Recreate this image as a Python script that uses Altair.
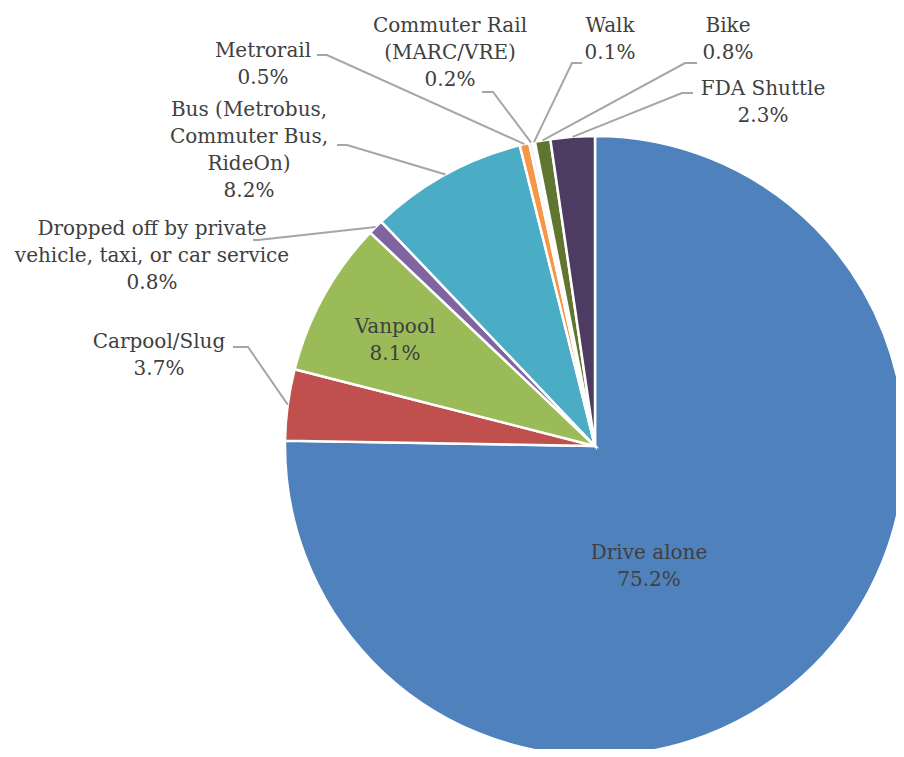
import math
import altair as alt
import pandas as pd

# ---------------- data ----------------
categories = [
    "Drive alone",
    "Carpool/Slug",
    "Vanpool",
    "Dropped off by private vehicle, taxi, or car service",
    "Bus (Metrobus, Commuter Bus, RideOn)",
    "Metrorail",
    "Commuter Rail (MARC/VRE)",
    "Walk",
    "Bike",
    "FDA Shuttle",
]
shares = [75.2, 3.7, 8.1, 0.8, 8.2, 0.5, 0.2, 0.1, 0.8, 2.3]
label_names = [
    "Drive alone",
    "Carpool/Slug",
    "Vanpool",
    "Dropped off by private\nvehicle, taxi, or car service",
    "Bus (Metrobus,\nCommuter Bus,\nRideOn)",
    "Metrorail",
    "Commuter Rail\n(MARC/VRE)",
    "Walk",
    "Bike",
    "FDA Shuttle",
]

# ---------------- styles / layout ----------------
colors = ["#4F81BD", "#C0504D", "#9BBB59", "#8064A2", "#4BACC6",
          "#F79646", "#E9EEF5", "#F2F2F2", "#5F7530", "#4D3B62"]
W, H = 888, 741
CX, CY, R = 587, 438, 310
FONT = "DejaVu Serif"
FS = 20
LH = 27
TEXT_COLOR = "#404040"
LEADER_COLOR = "#A6A6A6"

# label anchor (center x, first-line baseline y), chart pixel coords
label_x = [641, 151, 387, 144, 241, 255, 442, 602, 720, 755]
label_y = [551, 340, 325, 227, 108, 49, 24, 24, 24, 87]
# leader line start and elbow (None = no leader)
leader_start = [None, (225, 339), None, (245, 232), (329, 137), (309, 47),
                (474, 84), (574, 55), (689, 55), (685, 85)]
leader_elbow = [None, (240, 339), None, (250, 232), (339, 137), (319, 47),
                (485, 84), (564, 55), (677, 55), (674, 85)]

# ---------------- tables ----------------
pie_df = pd.DataFrame({"category": categories, "share": shares,
                       "idx": list(range(len(categories)))})

text_rows = []
for name, v, x, y in zip(label_names, shares, label_x, label_y):
    text_rows.append({"x": x, "y": y, "text": f"{name}\n{v:.1f}%"})
text_df = pd.DataFrame(text_rows)

total = sum(shares)
line_rows = []
cum = 0.0
for i, v in enumerate(shares):
    mid = (cum + v / 2) / total * 2 * math.pi
    cum += v
    if leader_start[i] is None:
        continue
    ex = CX + R * math.sin(mid)
    ey = CY - R * math.cos(mid)
    pts = [leader_start[i], leader_elbow[i], (ex, ey)]
    for k, (px, py) in enumerate(pts):
        line_rows.append({"leader": categories[i], "ord": k, "x": px, "y": py})
line_df = pd.DataFrame(line_rows)

xs = alt.Scale(domain=[0, W], range=[0, W], nice=False, zero=False)
ys = alt.Scale(domain=[0, H], range=[0, H], nice=False, zero=False)

pie = alt.Chart(pie_df).mark_arc(
    outerRadius=R, stroke="white", strokeWidth=2.5
).encode(
    theta=alt.Theta("share:Q", stack=True),
    order=alt.Order("idx:Q"),
    color=alt.Color("category:N", scale=alt.Scale(domain=categories, range=colors),
                    legend=None),
    x=alt.value(CX),
    y=alt.value(CY),
)

leaders = alt.Chart(line_df).mark_line(
    color=LEADER_COLOR, strokeWidth=2
).encode(
    x=alt.X("x:Q", scale=xs, axis=None),
    y=alt.Y("y:Q", scale=ys, axis=None),
    detail="leader:N",
    order="ord:Q",
)

labels = alt.Chart(text_df).mark_text(
    font=FONT, fontSize=FS, color=TEXT_COLOR, align="center",
    baseline="alphabetic", lineBreak="\n", lineHeight=LH
).encode(
    x=alt.X("x:Q", scale=xs, axis=None),
    y=alt.Y("y:Q", scale=ys, axis=None),
    text="text:N",
)

chart = alt.layer(pie, leaders, labels).properties(
    width=W, height=H, padding=0,
    autosize=alt.AutoSizeParams(type="none"),
).configure_view(stroke=None)

chart.save("out.html", embed_options={"renderer": "svg", "actions": False})
